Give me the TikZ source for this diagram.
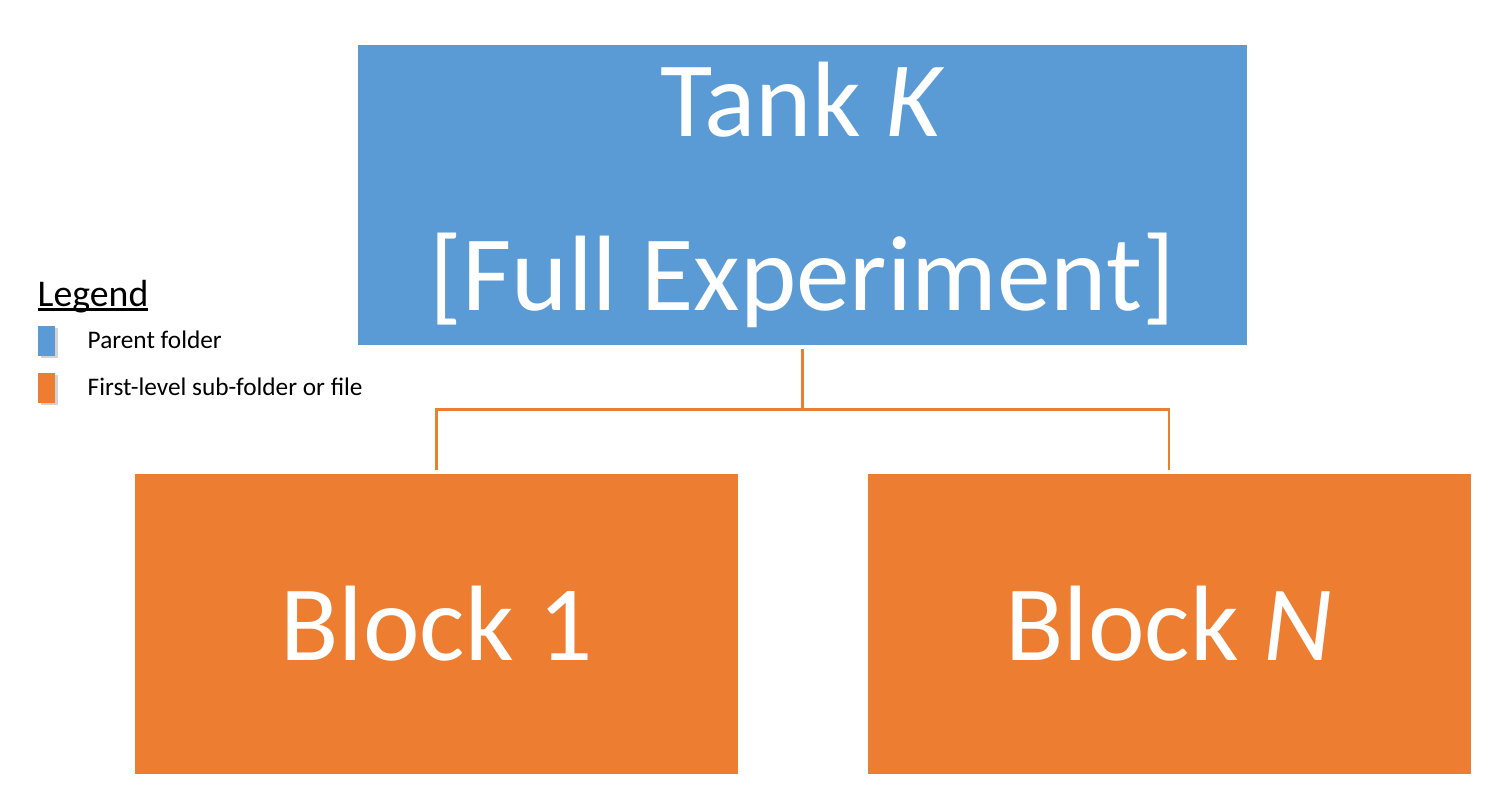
\documentclass[tikz,border=0pt]{standalone}
\usepackage{fontspec}
\setmainfont{Carlito}
\usepackage{tikz}
\usetikzlibrary{positioning,shadows,calc}
\definecolor{parentblue}{HTML}{5B9BD5}
\definecolor{suborange}{HTML}{ED7D31}
\newcommand{\legendrule}[1]{\setbox0\hbox{#1}\rlap{\rule[-1.3pt]{\wd0}{0.75pt}}#1}
\tikzset{
  folder/.style={shape=rectangle, inner sep=0pt, text=white, align=center,
    font=\fontsize{30.5}{49.5}\selectfont},
  parentbox/.style={folder, fill=parentblue, minimum width=8.89cm, minimum height=3cm},
  subbox/.style={folder, fill=suborange, minimum width=6.03cm, minimum height=3cm},
  swatch/.style={shape=rectangle, inner sep=0pt, minimum width=0.17cm, minimum height=0.3cm,
    drop shadow={shadow xshift=0.03cm, shadow yshift=-0.02cm, opacity=0.35}},
  legendtext/.style={anchor=base west, inner sep=0pt, font=\fontsize{7.2}{9}\selectfont},
  linkline/.style={draw=suborange, line width=0.7pt},
}
\begin{document}
\begin{tikzpicture}
  \useasboundingbox (0,0) rectangle (14.99,-7.97);
  % folders
  \node[parentbox] (tank) at (8.025,-1.95) {Tank \textit{K}\\[0pt][Full Experiment]};
  \node[subbox] (blockone) at (4.365,-6.24) {Block 1};
  \node[subbox] (blockn) at (11.69,-6.24) {Block \textit{N}};
  % connectors
  \coordinate (split) at ($(tank.south)+(0,-0.64)$);
  \draw[linkline] ([yshift=-0.03cm]tank.south) -- (split);
  \draw[linkline] (split) -| ([yshift=0.03cm]blockone.north);
  \draw[linkline] (split) -| ([yshift=0.03cm]blockn.north);
  % legend
  \node[anchor=base west, inner sep=0pt, font=\fontsize{10.75}{13}\selectfont] (legend) at (0.37,-3.06) {\legendrule{Legend}};
  \node[swatch, fill=parentblue, anchor=north west] (parentkey) at (0.37,-3.25) {};
  \node[swatch, fill=suborange, anchor=north west] (subkey) at (0.37,-3.72) {};
  \node[legendtext] (parenttext) at (0.87,-3.48) {Parent folder};
  \node[legendtext] (subtext) at (0.87,-3.95) {First-level sub-folder or file};
\end{tikzpicture}
\end{document}
